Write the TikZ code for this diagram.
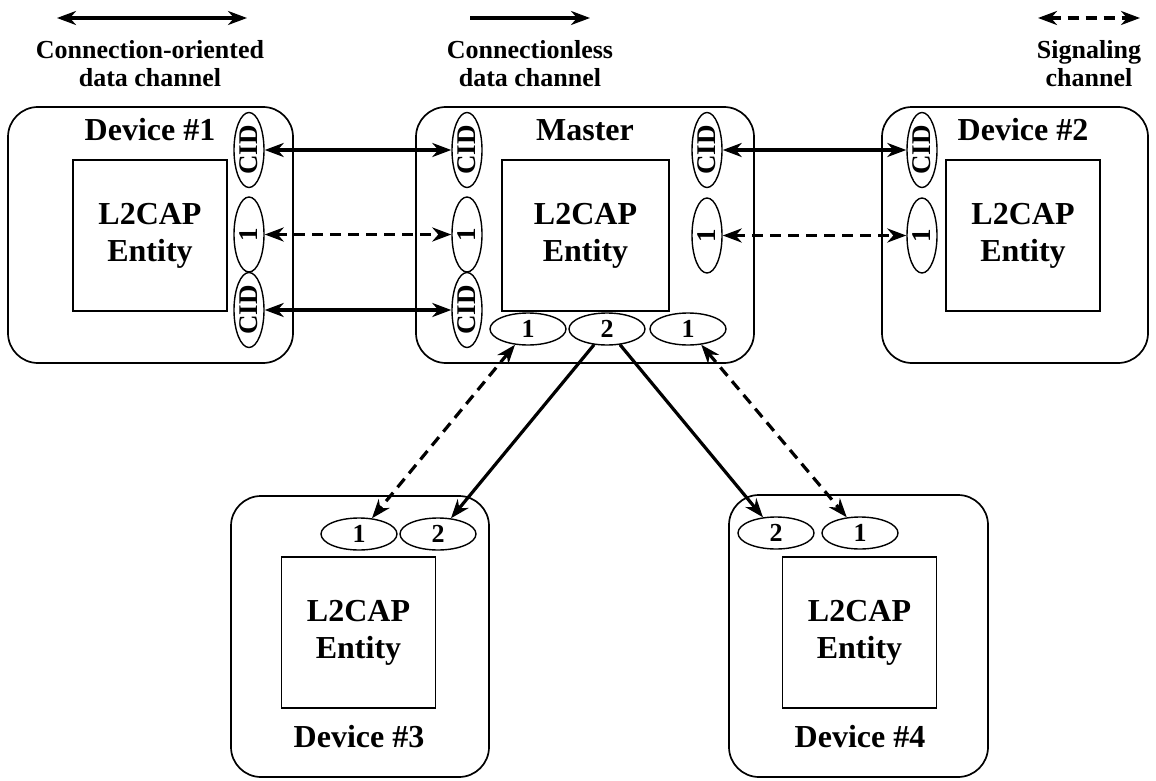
\documentclass[tikz,border=0pt]{standalone}
\usepackage{fontspec}
\setmainfont{Liberation Serif}
\usetikzlibrary{shapes.geometric,arrows.meta}

\begin{document}
\begin{tikzpicture}[x=1pt,y=-1pt,
    >={Stealth[length=19pt,width=14pt,inset=6pt]},
    device/.style={draw, line width=1.7pt, rounded corners=30pt},
    entity/.style={draw, line width=1.6pt, minimum width=154pt, minimum height=151pt,
        align=center, font=\fontsize{32}{37}\selectfont\bfseries},
    devlabel/.style={font=\fontsize{32}{37}\selectfont\bfseries},
    vport/.style={draw, ellipse, line width=1.4pt, inner sep=0pt, minimum width=75pt,
        minimum height=30pt, rotate=90, font=\fontsize{27}{27}\selectfont\bfseries},
    hport/.style={draw, ellipse, line width=1.4pt, inner sep=0pt, minimum width=76pt,
        minimum height=32pt, font=\fontsize{26}{26}\selectfont\bfseries},
    chan/.style={line width=3.2pt},
    sig/.style={chan, dash pattern=on 11pt off 7pt},
    legend/.style={align=center, font=\fontsize{26}{28}\selectfont\bfseries}]

    \useasboundingbox (0,0) rectangle (1156,781);

    % Legend
    \coordinate (coL) at (57,18);
    \coordinate (coR) at (247,18);
    \draw[chan,<->] (coL) -- (coR);
    \node[legend] (coText) at (150,64) {Connection-oriented\\data channel};
    \coordinate (clL) at (470,18);
    \coordinate (clR) at (590,18);
    \draw[chan,->] (clL) -- (clR);
    \node[legend] (clText) at (530,64) {Connectionless\\data channel};
    \coordinate (sgL) at (1038,18);
    \coordinate (sgR) at (1140,18);
    \draw[sig,<->] (sgL) -- (sgR);
    \node[legend] (sgText) at (1089,64) {Signaling\\channel};

    % Device #1
    \draw[device] (8,107) rectangle (293,363);
    \node[devlabel] (d1Name) at (150,130) {Device \#1};
    \node[entity] (d1Entity) at (150,235.5) {L2CAP\\Entity};
    \node[vport] (d1Cid1) at (249,150) {CID};
    \node[vport] (d1Sig) at (249,234.5) {1};
    \node[vport] (d1Cid2) at (249,310) {CID};

    % Master
    \draw[device] (416,107) rectangle (754,363);
    \node[devlabel] (mName) at (585,130) {Master};
    \node[entity, minimum width=167pt] (mEntity) at (585.5,235.5) {L2CAP\\Entity};
    \node[vport] (mCid1) at (467,150) {CID};
    \node[vport] (mSigL) at (467,234.5) {1};
    \node[vport] (mCid2) at (467,310) {CID};
    \node[vport] (mCid3) at (707,150) {CID};
    \node[vport] (mSigR) at (707,235.5) {1};
    \node[hport] (mSig3) at (528,329) {1};
    \node[hport] (mCl) at (607,329) {2};
    \node[hport] (mSig4) at (688,329) {1};

    % Device #2
    \draw[device] (882,107) rectangle (1148,363);
    \node[devlabel] (d2Name) at (1023,130) {Device \#2};
    \node[entity] (d2Entity) at (1023,235.5) {L2CAP\\Entity};
    \node[vport] (d2Cid) at (922,150) {CID};
    \node[vport] (d2Sig) at (922,235.5) {1};

    % Device #3
    \draw[device] (231,496) rectangle (489,777);
    \node[hport] (d3Sig) at (359,534) {1};
    \node[hport] (d3Cl) at (438,534) {2};
    \node[entity] (d3Entity) at (358.5,632.5) {L2CAP\\Entity};
    \node[devlabel] (d3Name) at (359,737) {Device \#3};

    % Device #4
    \draw[device] (729,495) rectangle (988,777);
    \node[hport] (d4Cl) at (776,533) {2};
    \node[hport] (d4Sig) at (860,533) {1};
    \node[entity] (d4Entity) at (859.5,632.5) {L2CAP\\Entity};
    \node[devlabel] (d4Name) at (860,737) {Device \#4};

    % Channels
    \draw[chan,<->] (d1Cid1) -- (mCid1);
    \draw[sig,<->] (d1Sig) -- (mSigL);
    \draw[chan,<->] (d1Cid2) -- (mCid2);
    \draw[chan,<->] (mCid3) -- (d2Cid);
    \draw[sig,<->] (mSigR) -- (d2Sig);
    \draw[sig,<->] (mSig3) -- (d3Sig);
    \draw[chan,->] (mCl) -- (d3Cl);
    \draw[chan,->] (mCl) -- (d4Cl);
    \draw[sig,<->] (mSig4) -- (d4Sig);

\end{tikzpicture}
\end{document}
